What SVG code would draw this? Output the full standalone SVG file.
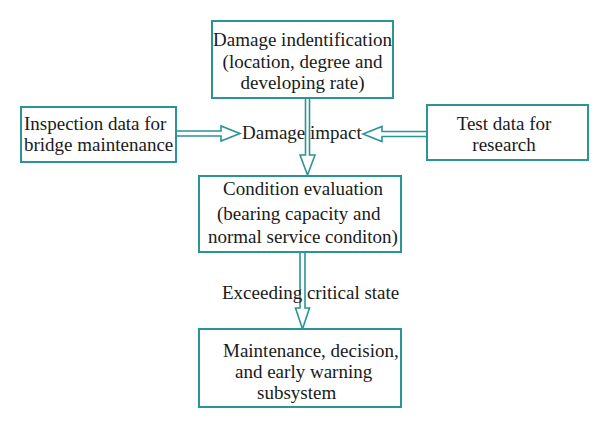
<svg xmlns="http://www.w3.org/2000/svg" width="600" height="428" viewBox="0 0 600 428">
<style>
.box{fill:#fff;stroke:#2b9494;stroke-width:2}
.arr{fill:#fff;stroke:#2b9494;stroke-width:1.6;stroke-linejoin:miter}
text{font-family:"Liberation Serif","Times New Roman",serif;font-size:19px;fill:#1a1a1a}
.c{text-anchor:middle}
</style>
<rect width="600" height="428" fill="#fff"/>
<g id="connectors">
<path class="arr" d="M305.5,98 V155 H300 L307.5,175 L315,155 H309.5 V98"/>
<path class="arr" d="M176,131 H221 V126 L240,133.5 L221,141 V136 H176"/>
<path class="arr" d="M427,131.5 H382 V126.5 L363,134 L382,141.5 V136.5 H427"/>
<path class="arr" d="M300,252 V308 H295.5 L302.5,329 L309.5,308 H305 V252"/>
</g>
<g id="damage-identification">
<rect class="box" x="212" y="21" width="181" height="77"/>
<text class="c" x="302.5" y="46">Damage indentification</text>
<text class="c" x="302.5" y="68">(location, degree and</text>
<text class="c" x="302.5" y="89">developing rate)</text>
</g>
<g id="inspection-data">
<rect class="box" x="21" y="107" width="155" height="55"/>
<text x="24" y="130">Inspection data for</text>
<text x="24" y="151">bridge maintenance</text>
</g>
<g id="test-data">
<rect class="box" x="427" y="105" width="161" height="55"/>
<text class="c" x="504" y="130">Test data for</text>
<text class="c" x="504" y="151">research</text>
</g>
<g id="damage-impact">
<text x="242" y="139">Damage impact</text>
</g>
<g id="condition-evaluation">
<rect class="box" x="199" y="176" width="202" height="76"/>
<text class="c" x="303" y="195">Condition evaluation</text>
<text x="217" y="220">(bearing capacity and</text>
<text x="208" y="243">normal service conditon)</text>
</g>
<g id="exceeding-critical-state">
<text x="222" y="299">Exceeding critical state</text>
</g>
<g id="maintenance-subsystem">
<rect class="box" x="199" y="329" width="202" height="78"/>
<text x="223" y="357">Maintenance, decision,</text>
<text x="235" y="378">and early warning</text>
<text x="257" y="399">subsystem</text>
</g>
</svg>
